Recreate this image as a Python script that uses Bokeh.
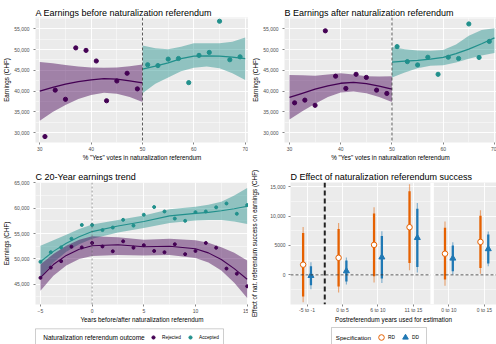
import numpy as np
from bokeh.plotting import figure
from bokeh.models import (Range1d, SingleIntervalTicker, FixedTicker, NumeralTickFormatter,
                          Span, BoxAnnotation, Label, Legend, LegendItem, ColumnDataSource)
from bokeh.layouts import column, row
from bokeh.transform import dodge
from bokeh.embed import file_html
from bokeh.resources import INLINE

# ---------------- data ----------------
outcomes = ["Rejected", "Accepted"]
legend_title_outcome = "Naturalization referendum outcome"
legend_title_spec = "Specification"
panel_titles = ["A Earnings before naturalization referendum",
                "B Earnings after naturalization referendum",
                "C 20-Year earnings trend",
                "D Effect of naturalization referendum success"]

# Panel A (before referendum), binned means by % yes
a_rej_x = [31, 33, 35, 37, 39, 41, 43, 45, 47, 49]
a_rej_y = [29100, 40250, 38050, 50400, 49800, 47250, 37700, 42450, 44300, 40550]
a_acc_x = [51, 53, 55, 57, 59, 61, 63, 65, 67, 69]
a_acc_y = [46350, 46150, 47700, 47850, 42050, 48600, 49300, 56800, 47550, 48250]
# smooth fits A
a_fit_rej_x = [30, 32.5, 35, 37.5, 40, 42.5, 45, 47.5, 50]
a_fit_rej = [40000, 40900, 41700, 42300, 42700, 43000, 42900, 42500, 42000]
a_fit_rej_lo = [32900, 35000, 36700, 38100, 39100, 39600, 39400, 38600, 37400]
a_fit_rej_hi = [47000, 46700, 46300, 45900, 45700, 45600, 45700, 46000, 46400]
a_fit_acc_x = [50, 52.5, 55, 57.5, 60, 62.5, 65, 67.5, 70]
a_fit_acc = [45300, 46000, 46800, 47800, 48400, 48500, 48400, 48200, 47800]
a_fit_acc_lo = [39500, 41800, 43300, 44800, 45600, 45900, 45500, 44300, 42700]
a_fit_acc_hi = [51000, 50300, 50100, 50700, 51500, 51500, 51500, 51900, 52900]

# Panel B (after referendum)
b_rej_x = [31, 33, 35, 37, 39, 41, 43, 45, 47, 49]
b_rej_y = [37200, 37850, 36600, 54500, 43600, 40650, 44050, 43300, 40250, 39450]
b_acc_x = [51, 53, 55, 57, 59, 61, 63, 65, 67, 69]
b_acc_y = [50700, 47100, 46300, 48150, 44050, 48150, 47850, 56150, 48100, 51950]
b_fit_rej_x = [30, 32.5, 35, 37.5, 40, 42.5, 45, 47.5, 50]
b_fit_rej = [38500, 39500, 40500, 41300, 41900, 42100, 41800, 41200, 40500]
b_fit_rej_lo = [33200, 35200, 37000, 38600, 39700, 39900, 39500, 38600, 37400]
b_fit_rej_hi = [43900, 43800, 43700, 44000, 44300, 44000, 43600, 43500, 43600]
b_fit_acc_x = [50, 52.5, 55, 57.5, 60, 62.5, 65, 67.5, 70]
b_fit_acc = [47000, 47200, 47400, 47700, 48100, 49000, 50100, 51400, 52800]
b_fit_acc_lo = [43300, 44500, 45500, 46100, 46200, 46900, 47800, 48600, 49200]
b_fit_acc_hi = [50600, 50100, 49800, 49700, 49900, 51200, 53300, 54700, 55100]

# Panel C (20-year trend)
c_years = [-5, -4, -3, -2, -1, 0, 1, 2, 3, 4, 5, 6, 7, 8, 9, 10, 11, 12, 13, 14, 15]
c_rej_y = [46270, 48290, 49560, 52410, 52280, 53160, 52470, 51520, 53480, 52220, 52720,
           51580, 51330, 52910, 50950, 51580, 53160, 52220, 48100, 47090, 44600]
c_acc_y = [49430, 51330, 52280, 53990, 56710, 56710, 55700, 56200, 57720, 56580, 58730,
           60250, 59370, 57970, 57530, 59240, 59370, 60190, 60950, 58920, 60630]
c_fit_x = [-5, -3.75, -2.5, -1.25, 0, 2.5, 5, 7.5, 10, 11.25, 12.5, 13.75, 15]
c_fit_rej = [46300, 48900, 50700, 51900, 52600, 52800, 52400, 52500, 52000, 51200, 49900, 48100, 46000]
c_fit_rej_lo = [43700, 46700, 48700, 50000, 50600, 50800, 50700, 50800, 50200, 49300, 47700, 45300, 42300]
c_fit_rej_hi = [48900, 51000, 52600, 53800, 54500, 54300, 53800, 54000, 53700, 53200, 52300, 51200, 49700]
c_fit_acc = [49450, 51500, 53100, 54400, 55400, 56500, 57400, 58500, 59000, 59200, 59500, 59900, 60400]
c_fit_acc_lo = [46300, 49300, 51400, 52900, 54000, 55200, 56100, 57100, 57600, 57700, 57700, 57400, 56900]
c_fit_acc_hi = [52600, 53700, 54800, 55900, 56800, 57700, 58600, 59800, 60300, 60700, 61300, 62500, 64000]

# Panel D (effect estimates), two facets
d_cats_1 = ["-5 to -1", "0 to 5", "6 to 10", "11 to 15"]
d_cats_2 = ["0 to 10", "0 to 15"]
specs = ["RD", "DD"]
rd_est = [1730, 2900, 5100, 8100, 3600, 5600]
rd_lo90 = [-3670, -1980, -250, 2000, -800, 1150]
rd_hi90 = [7130, 7780, 10450, 14200, 8000, 10050]
rd_lo95 = [-4670, -3000, -1300, 800, -1850, 200]
rd_hi95 = [8130, 8800, 11500, 15400, 9050, 11000]
dd_est = [-150, 650, 3000, 6300, 2800, 4400]
dd_lo90 = [-1750, -1150, -600, 1350, 600, 1950]
dd_hi90 = [1450, 2450, 6600, 11250, 5000, 6850]
dd_lo95 = [-2450, -1650, -1400, 400, 50, 1450]
dd_hi95 = [2150, 2950, 7400, 12200, 5550, 7350]
d_yticks = [0, 5000, 10000, 15000]
d_ylabels = ["0", "5000", "10,000", "15,000"]

# ---------------- style ----------------
FONT = "Liberation Sans"
PURPLE = "#440154"
TEAL = "#21908C"
ORANGE = "#E66101"
BLUE = "#1F78B4"
PANEL_BG = "#EBEBEB"
RIBBON_ALPHA = 0.45


def make_panel(width, height, x_range, y_range, bl, bt, bb, title, standoff):
    p = figure(width=width, height=height, x_range=x_range, y_range=y_range,
               output_backend="svg", toolbar_location=None,
               min_border_left=bl, min_border_right=0, min_border_top=bt,
               min_border_bottom=bb)
    p.background_fill_color = PANEL_BG
    p.border_fill_color = "white"
    p.outline_line_color = None
    for ax in (p.xaxis[0], p.yaxis[0]):
        ax.axis_line_color = None
        ax.major_tick_line_color = "#333333"
        ax.major_tick_line_width = 0.6
        ax.major_tick_in = 0
        ax.major_tick_out = 2
        ax.minor_tick_line_color = None
        ax.major_label_text_font = FONT
        ax.major_label_text_font_size = "5px"
        ax.major_label_text_color = "#4D4D4D"
        ax.axis_label_text_font = FONT
        ax.axis_label_text_font_style = "normal"
        ax.axis_label_text_color = "black"
        ax.axis_label_text_font_size = "6.3px"
    p.xaxis.major_label_standoff = 0
    p.yaxis.major_label_standoff = 2
    p.xaxis.axis_label_standoff = 0
    p.yaxis.axis_label_standoff = 1
    p.grid.grid_line_color = "white"
    p.grid.grid_line_width = 0.9
    p.grid.minor_grid_line_color = "white"
    p.grid.minor_grid_line_width = 0.45
    p.title.text = title
    p.title.align = "left"
    p.title.offset = 0
    p.title.standoff = standoff
    p.title.text_font = FONT
    p.title.text_font_size = "9px"
    p.title.text_font_style = "normal"
    p.title.text_color = "black"
    return p


def earnings_panel(idx, xr, bl, rej, acc, fit_rej, fit_acc):
    p = make_panel(248, 163, xr, Range1d(27670, 57700), bl, 17, 17, panel_titles[idx], 0)
    p.xaxis.ticker = SingleIntervalTicker(interval=10, num_minor_ticks=2)
    p.yaxis.ticker = SingleIntervalTicker(interval=5000, num_minor_ticks=2)
    p.yaxis.formatter = NumeralTickFormatter(format="0,0")
    p.xaxis.axis_label = '% "Yes" votes in naturalization referendum'
    p.yaxis.axis_label = "Earnings (CHF)"
    for (fx, f, lo, hi), col in ((fit_rej, PURPLE), (fit_acc, TEAL)):
        p.varea(x=fx, y1=lo, y2=hi, fill_color=col, fill_alpha=RIBBON_ALPHA)
        p.line(x=fx, y=f, line_color=col, line_width=1.3)
    p.add_layout(Span(location=50, dimension="height", line_color="#333333",
                      line_width=0.8, line_dash="3 2"))
    for (px, py), col in ((rej, PURPLE), (acc, TEAL)):
        p.scatter(x=px, y=py, size=4.2, color=col)
    return p


pA = earnings_panel(0, Range1d(29.16, 70.64), 35,
                    (a_rej_x, a_rej_y), (a_acc_x, a_acc_y),
                    (a_fit_rej_x, a_fit_rej, a_fit_rej_lo, a_fit_rej_hi),
                    (a_fit_acc_x, a_fit_acc, a_fit_acc_lo, a_fit_acc_hi))
pB = earnings_panel(1, Range1d(29.03, 70.4), 36,
                    (b_rej_x, b_rej_y), (b_acc_x, b_acc_y),
                    (b_fit_rej_x, b_fit_rej, b_fit_rej_lo, b_fit_rej_hi),
                    (b_fit_acc_x, b_fit_acc, b_fit_acc_lo, b_fit_acc_hi))

# Panel C
pC = make_panel(248, 162, Range1d(-5.48, 15.13), Range1d(41010, 65090), 35, 19, 17,
                panel_titles[2], 2)
pC.xaxis.ticker = SingleIntervalTicker(interval=5, num_minor_ticks=2)
pC.yaxis.ticker = SingleIntervalTicker(interval=5000, num_minor_ticks=2)
pC.yaxis.formatter = NumeralTickFormatter(format="0,0")
pC.xaxis.axis_label = "Years before/after naturalization referendum"
pC.yaxis.axis_label = "Earnings (CHF)"
pC.add_layout(Span(location=0, dimension="height", line_color="#555555",
                   line_width=0.6, line_dash="2 2"))
for f, lo, hi, col in ((c_fit_acc, c_fit_acc_lo, c_fit_acc_hi, TEAL),
                       (c_fit_rej, c_fit_rej_lo, c_fit_rej_hi, PURPLE)):
    pC.varea(x=c_fit_x, y1=lo, y2=hi, fill_color=col, fill_alpha=RIBBON_ALPHA)
    pC.line(x=c_fit_x, y=f, line_color=col, line_width=1.1)
pC.scatter(x=c_years, y=c_rej_y, size=3, color=PURPLE)
pC.scatter(x=c_years, y=c_acc_y, size=3, color=TEAL)

# Panel D
d_cats = d_cats_1 + d_cats_2
d_pos = [i + 1 for i in range(len(d_cats_1))] + [len(d_cats_1) + i + 1 for i in range(len(d_cats_2))]
d_src = ColumnDataSource(dict(pos=d_pos, rd=rd_est, rd_lo90=rd_lo90, rd_hi90=rd_hi90,
                              rd_lo95=rd_lo95, rd_hi95=rd_hi95, dd=dd_est, dd_lo90=dd_lo90,
                              dd_hi90=dd_hi90, dd_lo95=dd_lo95, dd_hi95=dd_hi95))
pD = make_panel(248, 162, Range1d(0.534, 6.342), Range1d(-5040, 15700), 36, 19, 17,
                panel_titles[3], 2)
pD.xaxis.ticker = FixedTicker(ticks=d_pos)
pD.xaxis.major_label_overrides = {p_: c for p_, c in zip(d_pos, d_cats)}
d_step = d_yticks[1] - d_yticks[0]
d_minor = [t + d_step / 2 for t in [d_yticks[0] - d_step] + d_yticks]
pD.yaxis.ticker = FixedTicker(ticks=d_yticks, minor_ticks=d_minor)
pD.yaxis.major_label_overrides = {t: l for t, l in zip(d_yticks, d_ylabels)}
pD.yaxis.major_label_standoff = 1
pD.yaxis.axis_label_standoff = 9
pD.xgrid.minor_grid_line_color = None
pD.xaxis.axis_label = "Postreferendum years used for estimation"
pD.yaxis.axis_label = "Effect of nat. referendum success on earnings (CHF)"
pD.add_layout(Span(location=0, dimension="width", line_color="#333333",
                   line_width=0.8, line_dash="3 2"))
pD.add_layout(Span(location=1.5, dimension="height", line_color="#222222",
                   line_width=2, line_dash="5 3"))
for key, col, off in (("rd", ORANGE, -0.11), ("dd", BLUE, 0.11)):
    xs = dodge("pos", off)
    pD.segment(x0=xs, y0=key + "_lo95", x1=xs, y1=key + "_hi95", source=d_src,
               line_color=col, line_alpha=0.5, line_width=1.2)
    pD.segment(x0=xs, y0=key + "_lo90", x1=xs, y1=key + "_hi90", source=d_src,
               line_color=col, line_width=2.3)
pD.scatter(x=dodge("pos", -0.11), y="rd", source=d_src, marker="circle", size=5.5,
           fill_color="white", line_color=ORANGE, line_width=1)
pD.scatter(x=dodge("pos", 0.11), y="dd", source=d_src, marker="triangle", size=6,
           fill_color=BLUE, line_color=BLUE)
pD.add_layout(BoxAnnotation(left=4.479, right=4.575, fill_color="white", fill_alpha=1,
                            line_color=None))


# Legends (one strip under each column; its data space equals its pixels)
def legend_fig():
    p = figure(width=248, height=19, x_range=Range1d(0, 248), y_range=Range1d(0, 19),
               x_axis_type=None, y_axis_type=None, output_backend="svg",
               toolbar_location=None, min_border=0)
    p.grid.visible = False
    p.outline_line_color = None
    p.background_fill_color = "white"
    p.border_fill_color = "white"
    return p


def legend_strip(box, title, title_x, title_size, items, loc, glyph, standoff, spacing):
    p = legend_fig()
    p.add_layout(BoxAnnotation(left=box[0], right=box[1], bottom=-10, top=box[2],
                               fill_color="white", fill_alpha=1,
                               line_color="#333333", line_width=0.8))
    p.add_layout(Label(x=title_x, y=6.7, text=title, text_font=FONT,
                       text_font_size=title_size, text_color="black",
                       text_baseline="middle", text_align="left"))
    leg_items = []
    for label, kw in items:
        # key-only renderer: a single missing point, so nothing is drawn in the strip
        r = p.scatter(x=[np.nan], y=[np.nan], **kw)
        leg_items.append(LegendItem(label=label, renderers=[r]))
    p.add_layout(Legend(items=leg_items, orientation="horizontal", location=loc, margin=0,
                        padding=0, spacing=spacing, glyph_width=glyph, glyph_height=glyph,
                        label_height=8, label_width=0, label_standoff=standoff,
                        label_text_font=FONT, label_text_font_size="4.8px",
                        label_text_color="black",
                        border_line_color=None, background_fill_alpha=0))
    return p


lg1 = legend_strip((35, 223, 15.7), legend_title_outcome, 42.7, "6.5px",
                   [(outcomes[0], dict(marker="circle", color=PURPLE, size=4)),
                    (outcomes[1], dict(marker="circle", color=TEAL, size=4))],
                   (149, 3), 8, 5, 5)
lg2 = legend_strip((83, 178, 17), legend_title_spec, 87.3, "6.2px",
                   [(specs[0], dict(marker="circle", fill_color="white", line_color=ORANGE,
                                    line_width=1, size=5)),
                    (specs[1], dict(marker="triangle", color=BLUE, size=5))],
                   (126, 0), 14, 0, 3)

layout = column(row(pA, pB), row(pC, pD), row(lg1, lg2))
open("out.html", "w").write(file_html(layout, INLINE))
